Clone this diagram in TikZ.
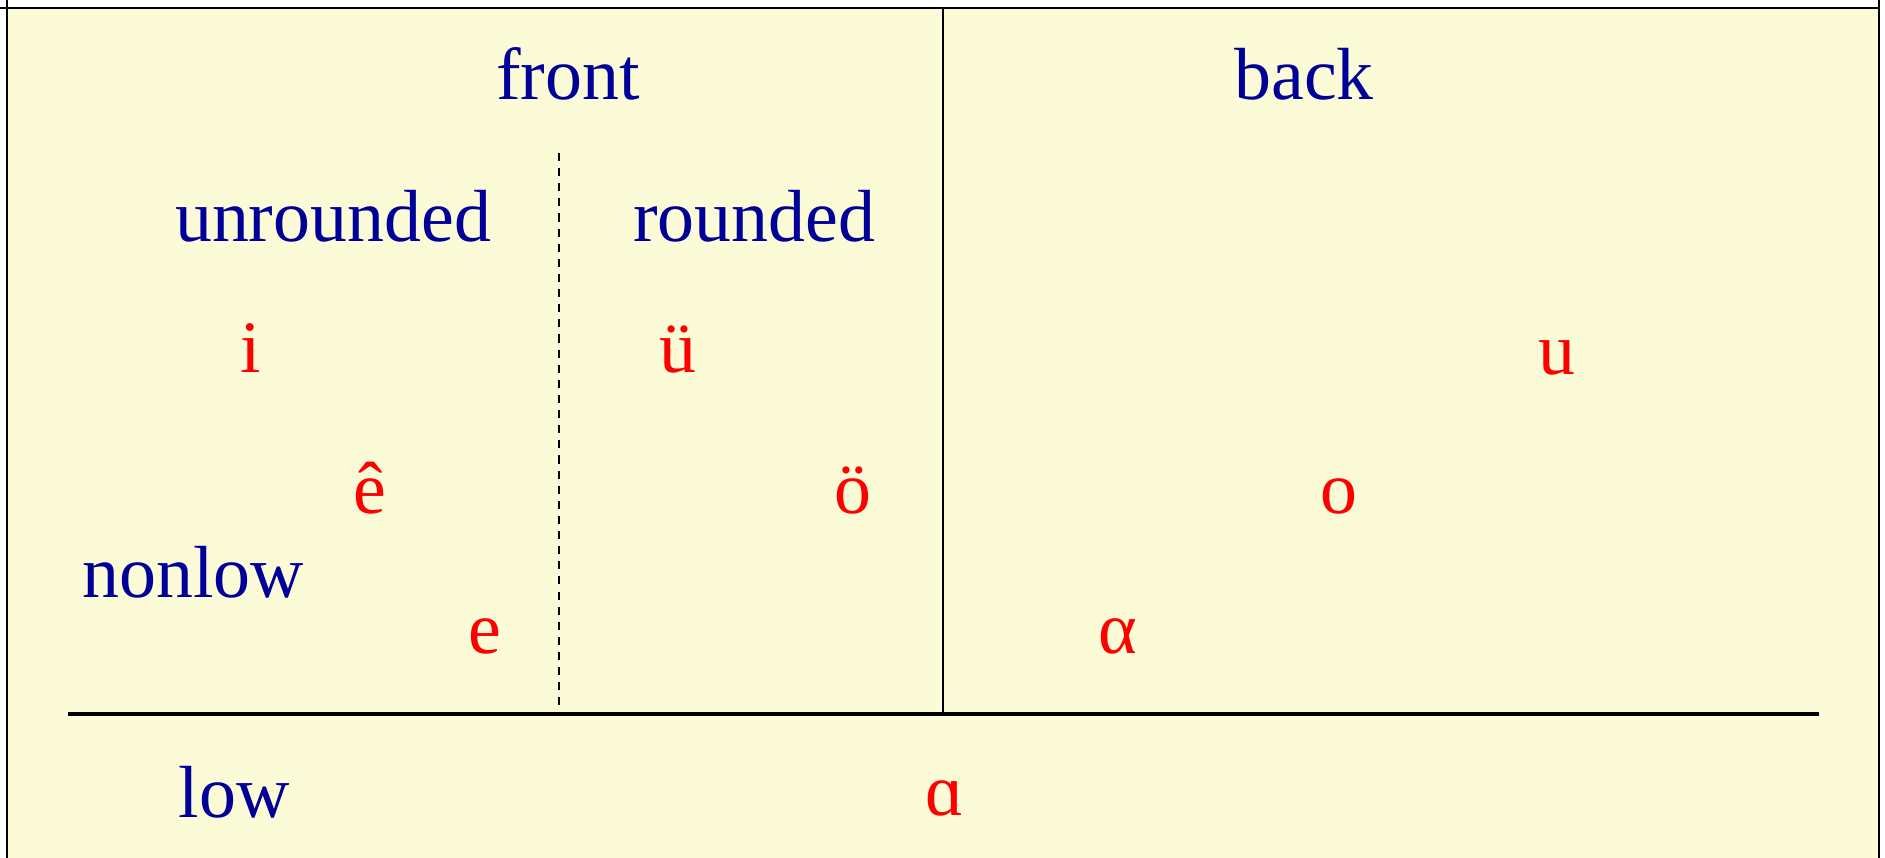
\documentclass[tikz,border=0pt]{standalone}
\usepackage{fontspec}
\setmainfont{Liberation Serif}
\definecolor{bgyellow}{RGB}{251,251,215}
\definecolor{labelblue}{RGB}{0,0,153}
\definecolor{vowelred}{RGB}{255,0,0}
\tikzset{
  lab/.style={text=labelblue, font=\fontsize{21}{25}\selectfont, anchor=base, inner sep=0pt},
  vow/.style={text=vowelred, font=\fontsize{21}{25}\selectfont, anchor=base, inner sep=0pt},
  frame/.style={line width=0.65pt, black},
  divider/.style={line width=0.6pt, black},
  dashdiv/.style={line width=0.55pt, black, dash pattern=on 2.3pt off 2pt},
  lowline/.style={line width=1.3pt, black}
}
\begin{document}
\begin{tikzpicture}[x=0.01cm, y=-0.01cm]
\useasboundingbox (0,0) rectangle (1885,858);
\fill[white] (0,0) rectangle (1885,858);
\fill[bgyellow] (7,8) rectangle (1879,858);
\draw[frame] (0,8) -- (1879,8);
\draw[frame] (7,0) -- (7,858);
\draw[frame] (1879,0) -- (1879,858);
% coordinates for dividers
\coordinate (midtop) at (943,8);
\coordinate (midbot) at (943,713);
\coordinate (dtop) at (559,153);
\coordinate (dbot) at (559,713);
\coordinate (lowL) at (68,714);
\coordinate (lowR) at (1819,714);
\draw[divider] (midtop) -- (midbot);
\draw[dashdiv] (dtop) -- (dbot);
\draw[lowline] (lowL) -- (lowR);
% labels
\node[lab] (front) at (568,100) {front};
\node[lab] (back) at (1304,100) {back};
\node[lab] (unr) at (333,242) {unrounded};
\node[lab] (rnd) at (754,242) {rounded};
\node[lab] (nonlow) at (193,597) {nonlow};
\node[lab] (low) at (234,817) {low};
% vowels
\node[vow] (i) at (251,373) {i};
\node[vow] (uu) at (678,373) {ü};
\node[vow] (u) at (1557,375) {u};
\node[vow] (ehat) at (370,513) {ê};
\node[vow] (oo) at (853,513) {ö};
\node[vow] (o) at (1339,513) {o};
\node[vow] (e) at (485,653) {e};
\node[vow] (alpha) at (1118,653) {α};
\node[vow] (latalpha) at (945,815) {ɑ};
\end{tikzpicture}
\end{document}
